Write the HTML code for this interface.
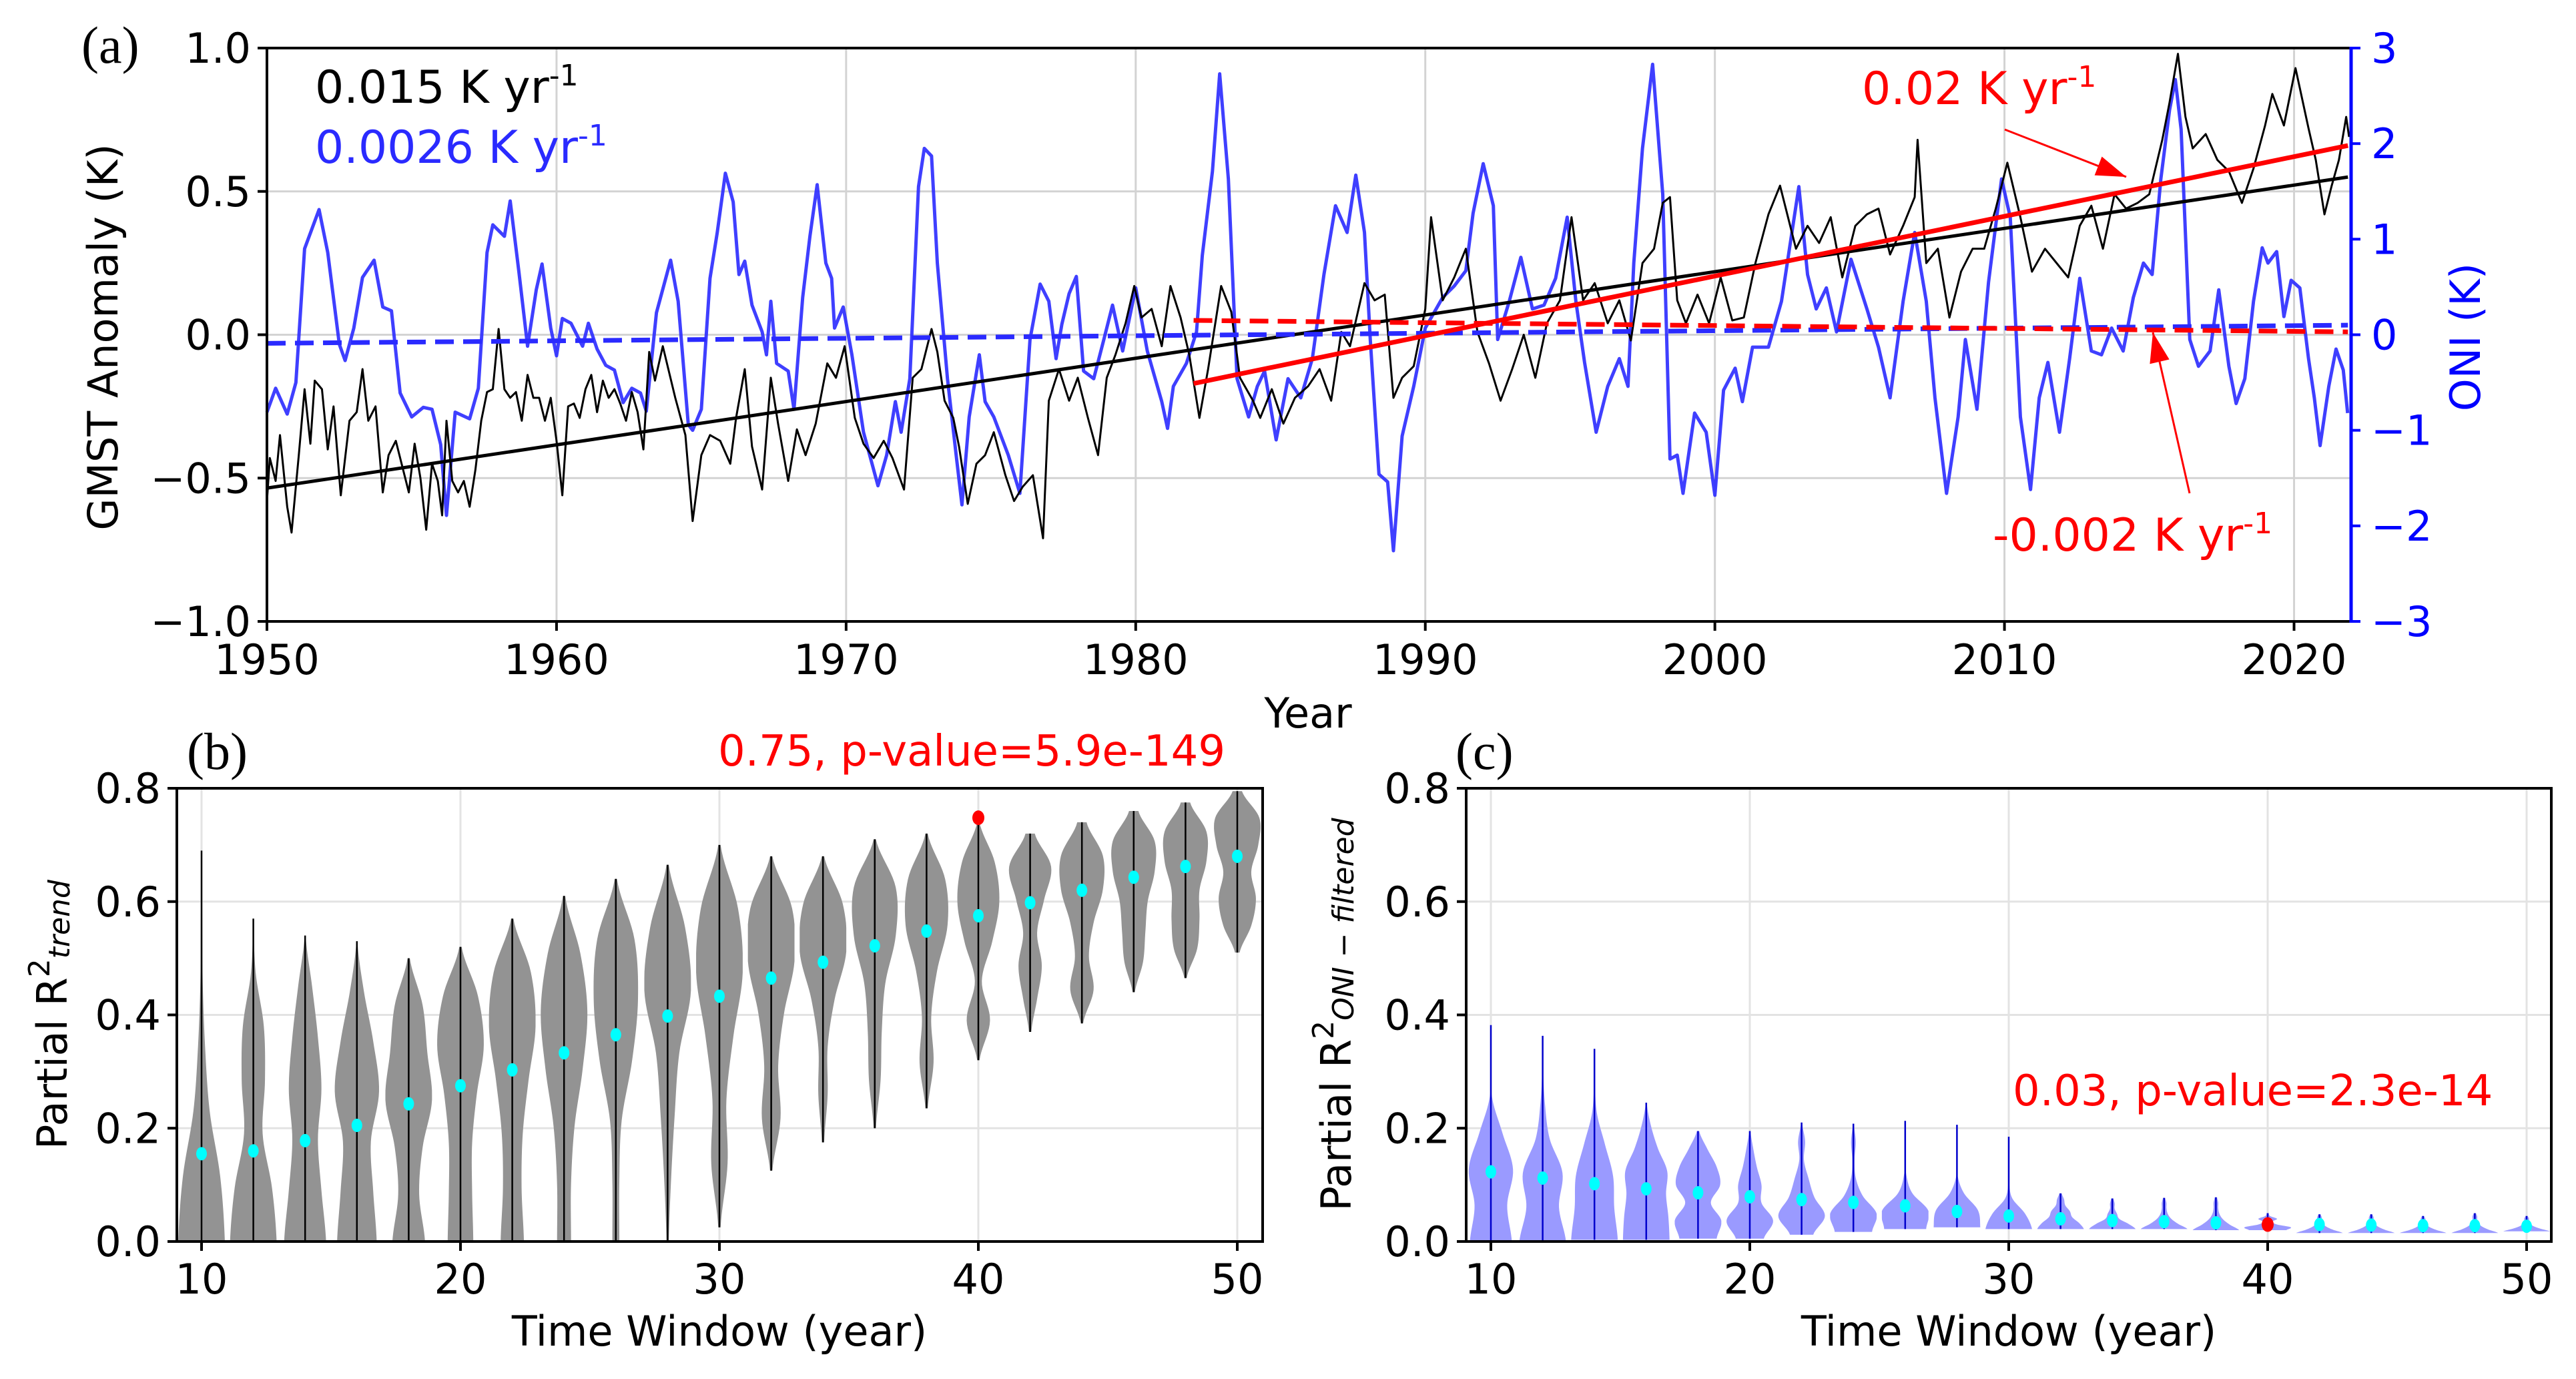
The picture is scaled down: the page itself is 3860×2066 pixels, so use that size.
<!DOCTYPE html>
<html><head><meta charset="utf-8"><style>
html,body{margin:0;padding:0;background:#fff}
svg{display:block;font-family:"DejaVu Sans","Liberation Sans",sans-serif}
</style></head><body>
<svg id="fig" xmlns="http://www.w3.org/2000/svg" width="3860" height="2066" viewBox="0 0 3860 2066">
<rect x="0" y="0" width="3860" height="2066" fill="#fff"/>
<g id="pa"></g>
<g id="pb"></g>
<g id="pc"></g>
</svg>
<script>
const oniYears=[1950.0,1950.3,1950.7,1951.0,1951.3,1951.8,1952.1,1952.5,1952.7,1953.0,1953.3,1953.7,1954.0,1954.3,1954.6,1955.0,1955.4,1955.7,1956.0,1956.2,1956.5,1957.0,1957.3,1957.6,1957.8,1958.2,1958.4,1958.7,1959.0,1959.3,1959.5,1959.8,1960.0,1960.2,1960.5,1960.9,1961.1,1961.4,1961.7,1962.0,1962.3,1962.6,1962.9,1963.1,1963.45,1963.94,1964.2,1964.55,1964.7,1965.0,1965.3,1965.55,1965.83,1966.1,1966.3,1966.5,1966.75,1967.1,1967.25,1967.4,1967.6,1968.0,1968.2,1968.5,1968.75,1969.0,1969.3,1969.5,1969.6,1969.9,1970.2,1970.6,1971.1,1971.4,1971.7,1971.9,1972.2,1972.5,1972.7,1972.95,1973.15,1973.5,1973.8,1974.0,1974.25,1974.6,1974.8,1975.1,1975.6,1976.0,1976.35,1976.7,1977.0,1977.25,1977.45,1977.7,1977.95,1978.2,1978.55,1978.9,1979.2,1979.55,1980.0,1980.4,1980.9,1981.1,1981.3,1981.75,1982.1,1982.3,1982.65,1982.9,1983.2,1983.5,1983.9,1984.2,1984.45,1984.85,1985.26,1985.7,1986.1,1986.5,1986.9,1987.3,1987.6,1987.9,1988.1,1988.4,1988.7,1988.9,1989.2,1989.6,1990.0,1990.6,1991.0,1991.4,1991.65,1992.0,1992.35,1992.5,1992.9,1993.3,1993.7,1994.1,1994.5,1994.9,1995.2,1995.5,1995.9,1996.3,1996.7,1997.0,1997.2,1997.5,1997.85,1998.2,1998.45,1998.7,1998.9,1999.3,1999.7,2000.0,2000.3,2000.7,2000.95,2001.3,2001.85,2002.3,2002.9,2003.2,2003.5,2003.85,2004.2,2004.7,2005.25,2005.65,2006.05,2006.5,2006.9,2007.3,2007.6,2008.0,2008.4,2008.65,2009.05,2009.45,2009.9,2010.2,2010.55,2010.9,2011.2,2011.5,2011.9,2012.25,2012.6,2013.0,2013.35,2013.7,2014.1,2014.45,2014.8,2015.1,2015.4,2015.7,2015.9,2016.1,2016.4,2016.7,2017.1,2017.4,2017.75,2018.0,2018.3,2018.6,2018.9,2019.1,2019.4,2019.65,2019.9,2020.2,2020.5,2020.7,2020.9,2021.2,2021.45,2021.7,2021.85];
const oniVals=[-0.81,-0.56,-0.83,-0.5,0.9,1.31,0.86,-0.1,-0.27,0.07,0.6,0.78,0.29,0.25,-0.61,-0.86,-0.76,-0.78,-1.15,-1.89,-0.81,-0.88,-0.56,0.86,1.15,1.03,1.4,0.66,-0.12,0.47,0.74,0.07,-0.22,0.17,0.12,-0.12,0.12,-0.15,-0.32,-0.37,-0.71,-0.56,-0.61,-0.8,0.23,0.78,0.35,-0.94,-1.0,-0.78,0.59,1.07,1.69,1.39,0.63,0.77,0.31,0.03,-0.21,0.35,-0.3,-0.38,-0.78,0.39,1.03,1.57,0.75,0.59,0.07,0.29,-0.21,-1.02,-1.58,-1.26,-0.7,-1.02,-0.46,1.55,1.95,1.87,0.75,-0.46,-1.26,-1.78,-0.86,-0.21,-0.7,-0.86,-1.26,-1.66,-0.05,0.53,0.35,-0.25,0.11,0.43,0.61,-0.38,-0.46,-0.05,0.31,-0.17,0.49,-0.17,-0.7,-0.98,-0.54,-0.3,0.03,0.83,1.71,2.73,1.63,-0.46,-0.86,-0.54,-0.38,-1.1,-0.46,-0.66,-0.25,0.63,1.35,1.07,1.67,1.07,-0.05,-1.46,-1.54,-2.26,-1.06,-0.54,0.07,0.39,0.51,0.67,1.27,1.79,1.35,-0.05,0.35,0.81,0.27,0.31,0.59,1.23,0.35,-0.29,-1.02,-0.54,-0.25,-0.54,0.75,1.95,2.83,1.47,-1.3,-1.26,-1.66,-0.82,-1.02,-1.68,-0.58,-0.35,-0.7,-0.13,-0.13,0.35,1.55,0.63,0.27,0.49,0.03,0.79,0.27,-0.13,-0.66,0.35,1.07,0.35,-0.66,-1.66,-0.86,-0.05,-0.78,0.55,1.63,1.23,-0.86,-1.62,-0.66,-0.29,-1.02,-0.25,0.59,-0.17,-0.21,0.07,-0.17,0.39,0.75,0.63,1.63,2.35,2.67,2.15,-0.05,-0.33,-0.17,0.47,-0.33,-0.72,-0.46,0.35,0.91,0.75,0.87,0.19,0.57,0.49,-0.25,-0.66,-1.16,-0.54,-0.15,-0.37,-0.82];
const gmstYears=[1950.0,1950.1,1950.3,1950.45,1950.7,1950.85,1951.1,1951.3,1951.5,1951.65,1951.9,1952.1,1952.3,1952.55,1952.85,1953.1,1953.3,1953.5,1953.75,1954.0,1954.2,1954.45,1954.7,1954.9,1955.1,1955.3,1955.5,1955.7,1955.9,1956.05,1956.2,1956.4,1956.6,1956.8,1957.0,1957.2,1957.4,1957.6,1957.8,1958.0,1958.2,1958.4,1958.6,1958.8,1959.0,1959.2,1959.4,1959.6,1959.8,1960.0,1960.2,1960.4,1960.6,1960.8,1961.0,1961.2,1961.4,1961.6,1961.8,1962.0,1962.2,1962.4,1962.6,1962.8,1963.0,1963.2,1963.4,1963.67,1964.1,1964.45,1964.7,1965.0,1965.3,1965.65,1966.0,1966.2,1966.5,1966.75,1967.1,1967.4,1967.65,1968.0,1968.3,1968.6,1968.95,1969.35,1969.65,1969.95,1970.3,1970.6,1970.95,1971.3,1971.6,1972.0,1972.3,1972.6,1972.95,1973.15,1973.4,1973.7,1973.9,1974.2,1974.5,1974.8,1975.1,1975.5,1975.8,1976.1,1976.45,1976.8,1977.0,1977.35,1977.7,1978.0,1978.35,1978.7,1979.0,1979.3,1979.65,1979.95,1980.2,1980.55,1980.9,1981.2,1981.55,1981.85,1982.2,1982.5,1982.95,1983.3,1983.6,1984.05,1984.3,1984.7,1985.1,1985.5,1985.95,1986.35,1986.75,1987.1,1987.4,1987.9,1988.25,1988.6,1988.9,1989.2,1989.6,1990.0,1990.2,1990.6,1991.0,1991.4,1991.8,1992.2,1992.6,1993.0,1993.4,1993.8,1994.2,1994.65,1995.05,1995.45,1995.85,1996.3,1996.7,1997.1,1997.5,1997.9,1998.2,1998.45,1998.7,1999.0,1999.4,1999.8,2000.2,2000.6,2001.0,2001.4,2001.85,2002.25,2002.8,2003.2,2003.6,2004.0,2004.4,2004.85,2005.25,2005.65,2006.05,2006.5,2006.9,2007.0,2007.3,2007.7,2008.1,2008.5,2008.9,2009.3,2009.7,2010.1,2010.55,2010.95,2011.4,2011.8,2012.2,2012.6,2013.0,2013.4,2013.8,2014.2,2014.6,2015.0,2015.45,2015.7,2015.99,2016.25,2016.5,2016.95,2017.35,2017.75,2018.2,2018.6,2019.0,2019.25,2019.65,2020.05,2020.5,2020.75,2021.05,2021.3,2021.55,2021.8,2021.9];
const gmstVals=[-0.58,-0.43,-0.51,-0.35,-0.6,-0.69,-0.42,-0.19,-0.38,-0.16,-0.19,-0.4,-0.25,-0.56,-0.3,-0.27,-0.12,-0.3,-0.25,-0.55,-0.42,-0.37,-0.47,-0.55,-0.38,-0.5,-0.68,-0.45,-0.51,-0.63,-0.3,-0.51,-0.55,-0.51,-0.6,-0.47,-0.3,-0.2,-0.19,0.02,-0.19,-0.22,-0.2,-0.3,-0.14,-0.22,-0.22,-0.3,-0.22,-0.37,-0.56,-0.25,-0.24,-0.29,-0.19,-0.14,-0.27,-0.16,-0.22,-0.19,-0.24,-0.3,-0.2,-0.27,-0.4,-0.06,-0.16,-0.04,-0.22,-0.35,-0.65,-0.42,-0.35,-0.37,-0.45,-0.29,-0.12,-0.39,-0.54,-0.15,-0.31,-0.51,-0.33,-0.42,-0.31,-0.1,-0.15,-0.04,-0.29,-0.38,-0.43,-0.37,-0.43,-0.54,-0.15,-0.12,0.02,-0.06,-0.23,-0.29,-0.39,-0.59,-0.45,-0.42,-0.34,-0.49,-0.58,-0.53,-0.49,-0.71,-0.23,-0.12,-0.23,-0.15,-0.29,-0.42,-0.15,-0.07,0.04,0.17,0.06,0.09,-0.04,0.17,0.06,-0.07,-0.29,-0.12,0.17,0.08,-0.15,-0.23,-0.29,-0.19,-0.31,-0.22,-0.18,-0.12,-0.23,0.01,-0.04,0.18,0.12,0.14,-0.22,-0.15,-0.11,0.09,0.41,0.12,0.2,0.3,0.01,-0.1,-0.23,-0.12,0.0,-0.15,0.04,0.12,0.41,0.12,0.18,0.04,0.12,-0.02,0.25,0.3,0.46,0.48,0.12,0.04,0.14,0.04,0.2,0.05,0.06,0.25,0.42,0.52,0.3,0.38,0.32,0.41,0.2,0.38,0.42,0.44,0.28,0.38,0.48,0.68,0.25,0.3,0.06,0.22,0.3,0.3,0.44,0.6,0.41,0.22,0.3,0.25,0.2,0.38,0.45,0.3,0.49,0.44,0.46,0.49,0.68,0.81,0.98,0.76,0.65,0.7,0.61,0.57,0.46,0.58,0.73,0.84,0.73,0.93,0.72,0.61,0.42,0.52,0.61,0.76,0.69];
const trendGmst=[-0.535,0.55];
const trendGmst2=[-0.17,0.66];
const trendOni=[-0.09,0.1];
const trendOni2=[0.15,0.03];
const windows=[10,12,14,16,18,20,22,24,26,28,30,32,34,36,38,40,42,44,46,48,50];
const bMed=[0.155,0.16,0.178,0.205,0.243,0.275,0.303,0.333,0.365,0.398,0.433,0.465,0.493,0.522,0.548,0.575,0.598,0.62,0.643,0.662,0.68];
const bMax=[0.69,0.57,0.54,0.53,0.5,0.52,0.57,0.61,0.64,0.665,0.7,0.68,0.68,0.71,0.72,0.74,0.72,0.74,0.76,0.775,0.795];
const bMin=[0,0,0,0,0,0,0,0,0,0,0.025,0.125,0.175,0.2,0.235,0.32,0.37,0.385,0.44,0.465,0.51];
const bDens=[[1,0.8,0.35,0.15,0.05,0.03,0.01],[1,0.8,0.4,0.5,0.45,0.1,0.01],[0.9,0.7,0.55,0.7,0.55,0.3,0.02],[0.85,0.7,0.6,0.95,0.7,0.3,0.02],[0.7,0.45,0.6,1,0.8,0.6,0.05],[0.55,0.5,0.5,0.7,1,0.75,0.05],[0.5,0.4,0.45,0.7,1,0.8,0.05],[0.3,0.3,0.45,0.8,1,0.7,0.05],[0.15,0.15,0.25,0.7,0.95,0.8,0.05],[0.05,0.15,0.3,0.5,1,0.75,0.05],[0.05,0.35,0.3,0.6,1,0.8,0.05],[0.05,0.4,0.3,0.55,1,0.9,0.05],[0.05,0.2,0.2,0.5,1,0.85,0.05],[0.05,0.25,0.3,0.45,0.9,0.9,0.05],[0.05,0.3,0.2,0.45,0.9,0.8,0.05],[0.05,0.5,0.15,0.6,0.9,0.7,0.05],[0.05,0.3,0.5,0.3,0.6,0.9,0.2],[0.05,0.5,0.3,0.5,0.9,0.9,0.2],[0.05,0.4,0.5,0.6,0.9,0.9,0.2],[0.05,0.5,0.6,0.6,0.9,0.9,0.2],[0.1,0.6,0.8,0.6,0.9,0.95,0.2]];
const cMed=[0.123,0.112,0.102,0.093,0.086,0.079,0.074,0.069,0.063,0.053,0.045,0.04,0.037,0.035,0.033,0.03,0.03,0.029,0.028,0.028,0.027];
const cMax=[0.382,0.363,0.34,0.245,0.195,0.195,0.21,0.208,0.213,0.206,0.185,0.085,0.076,0.077,0.078,0.05,0.048,0.048,0.045,0.05,0.045];
const cMin=[0,0,0.003,0.003,0.005,0.005,0.012,0.017,0.022,0.025,0.022,0.022,0.022,0.022,0.02,0.02,0.015,0.015,0.015,0.015,0.018];
const cDens=[[0.9,0.7,0.95,0.5,0.05,0.02,0.01],[1,0.7,0.85,0.3,0.1,0.02,0.01],[1,0.85,0.8,0.45,0.1,0.02,0.01],[1,0.95,0.85,0.9,0.5,0.2,0.02],[0.8,1,0.55,0.95,0.8,0.4,0.05],[0.6,1,0.5,0.5,0.3,0.15,0.03],[0.5,1,0.55,0.3,0.1,0.15,0.02],[0.8,1,0.4,0.1,0.05,0.1,0.02],[0.9,1,0.3,0.05,0.02,0.02,0.01],[1,0.9,0.3,0.03,0.01,0.01,0.01],[1,0.7,0.15,0.02,0.01,0.01,0.01],[1,0.8,0.5,0.4,0.2,0.15,0.05],[1,0.7,0.3,0.2,0.1,0.1,0.05],[1,0.6,0.3,0.15,0.1,0.1,0.05],[1,0.6,0.3,0.15,0.1,0.1,0.05],[0.8,1,0.4,0.2,0.4,0.1,0.05],[1,0.6,0.3,0.15,0.1,0.1,0.05],[1,0.6,0.3,0.15,0.1,0.1,0.05],[1,0.6,0.3,0.15,0.1,0.1,0.05],[1,0.6,0.3,0.15,0.1,0.1,0.05],[1,0.6,0.3,0.15,0.1,0.1,0.05]];
const yearTicks=[1950,1960,1970,1980,1990,2000,2010,2020];
const gmstTicks=[-1.0,-0.5,0.0,0.5,1.0];
const oniTicks=[-3,-2,-1,0,1,2,3];
const winTicks=[10,20,30,40,50];
const r2Ticks=[0.0,0.2,0.4,0.6,0.8];

const NS="http://www.w3.org/2000/svg";
function mk(parent,tag,attrs,text){const e=document.createElementNS(NS,tag);for(const k in attrs)e.setAttribute(k,attrs[k]);if(text!==undefined)e.textContent=text;parent.appendChild(e);return e;}
function fmtG(v){const s=v.toFixed(1);return v<0?"\u2212"+s.slice(1):s;}
function fmtI(v){return v<0?"\u2212"+(-v):""+v;}

const pa=document.getElementById('pa');
const A={l:400,r:3523,t:72,b:931,x0:1950,x1:2021.97};
const ax=y=>A.l+(y-A.x0)/(A.x1-A.x0)*(A.r-A.l);
const ayG=v=>A.t+(1-v)/2*(A.b-A.t);
const ayO=v=>A.t+(3-v)/6*(A.b-A.t);
yearTicks.forEach(t=>{let g=mk(pa,'line',{x1:ax(t),x2:ax(t),y1:A.t,y2:A.b,stroke:'#d3d3d3','stroke-width':3});

});
gmstTicks.forEach(t=>{let g=mk(pa,'line',{x1:A.l,x2:A.r,y1:ayG(t),y2:ayG(t),stroke:'#d3d3d3','stroke-width':3});

});
let p=mk(pa,'polyline',{points:oniYears.map((y,i)=>ax(y)+','+ayO(oniVals[i])).join(' '),fill:'none',stroke:'#2a2aff','stroke-width':5,'stroke-linejoin':'round','stroke-opacity':0.9});


p=mk(pa,'polyline',{points:gmstYears.map((y,i)=>ax(y)+','+ayG(gmstVals[i])).join(' '),fill:'none',stroke:'#000','stroke-width':3,'stroke-linejoin':'round'});


p=mk(pa,'line',{x1:ax(1950),y1:ayG(trendGmst[0]),x2:ax(2021.86),y2:ayG(trendGmst[1]),stroke:'#000','stroke-width':5});


p=mk(pa,'line',{x1:ax(1950),y1:ayO(trendOni[0]),x2:ax(2021.86),y2:ayO(trendOni[1]),stroke:'#2a2aff','stroke-width':7,'stroke-dasharray':'28 14'});


p=mk(pa,'line',{x1:ax(1982),y1:ayG(trendGmst2[0]),x2:ax(2021.86),y2:ayG(trendGmst2[1]),stroke:'#ff0000','stroke-width':7});


p=mk(pa,'line',{x1:ax(1982),y1:ayO(trendOni2[0]),x2:ax(2021.86),y2:ayO(trendOni2[1]),stroke:'#ff0000','stroke-width':7,'stroke-dasharray':'28 14'});


function arrow(par,x1,y1,x2,y2,name){const g=mk(par,'g',{});


mk(g,'line',{x1:x1,y1:y1,x2:x2,y2:y2,stroke:'#f00','stroke-width':3});
const a=Math.atan2(y2-y1,x2-x1),L=45,W=15;const bx=x2-L*Math.cos(a),by=y2-L*Math.sin(a);
mk(g,'polygon',{points:`${x2},${y2} ${bx+W*Math.sin(a)},${by-W*Math.cos(a)} ${bx-W*Math.sin(a)},${by+W*Math.cos(a)}`,fill:'#f00'});}
arrow(pa,3004,194,3186,265,'arrow-recent-trend');
arrow(pa,3281,739,3226,498,'arrow-oni-recent-trend');
p=mk(pa,'rect',{x:A.l,y:A.t,width:A.r-A.l,height:A.b-A.t,fill:'none',stroke:'#000','stroke-width':4});


p=mk(pa,'line',{x1:A.r,x2:A.r,y1:A.t-2,y2:A.b+2,stroke:'#0000ff','stroke-width':5});


yearTicks.forEach(t=>{mk(pa,'line',{x1:ax(t),x2:ax(t),y1:A.b,y2:A.b+14,stroke:'#000','stroke-width':4});
let tx=mk(pa,'text',{x:ax(t),y:1010,'font-size':62,'text-anchor':'middle'},t);

});
gmstTicks.forEach(t=>{mk(pa,'line',{x1:A.l-14,x2:A.l,y1:ayG(t),y2:ayG(t),stroke:'#000','stroke-width':4});
let tx=mk(pa,'text',{x:A.l-24,y:ayG(t)+22,'font-size':62,'text-anchor':'end'},fmtG(t));

});
oniTicks.forEach(t=>{mk(pa,'line',{x1:A.r,x2:A.r+14,y1:ayO(t),y2:ayO(t),stroke:'#0000ff','stroke-width':4});
let tx=mk(pa,'text',{x:A.r+30,y:ayO(t)+22,'font-size':62,fill:'#0000ff'},fmtI(t));

});
</script>
<script>
(function(){
const pa=document.getElementById('pa');
pa.insertAdjacentHTML('beforeend',`
<text x="122" y="94" font-size="78" font-family="Liberation Serif, serif">(a)</text>
<text transform="translate(176,505) rotate(-90)" font-size="62" text-anchor="middle">GMST Anomaly (K)</text>
<text transform="translate(3716,505) rotate(-90)" font-size="62" text-anchor="middle" fill="#0000ff">ONI (K)</text>
<text x="1960" y="1090" font-size="62" text-anchor="middle">Year</text>
<text x="472" y="154" font-size="68">0.015 K yr<tspan font-size="44" dy="-26">-1</tspan></text>
<text x="472" y="244" font-size="68" fill="#2a2aff">0.0026 K yr<tspan font-size="44" dy="-26">-1</tspan></text>
<text x="2790" y="156" font-size="68" fill="#ff0000">0.02 K yr<tspan font-size="44" dy="-26">-1</tspan></text>
<text x="2986" y="825" font-size="68" fill="#ff0000">-0.002 K yr<tspan font-size="44" dy="-26">-1</tspan></text>
`);
})();
</script>
<script>
function violinPanel(gid,P,med,vmax,vmin,dens,fill,lineCol,redIdx,ymaxV){
const g=document.getElementById(gid);
const X=v=>P.x10+(v-10)*P.u;
const Y=v=>P.b-v/ymaxV*(P.b-P.t);
winTicks.forEach(t=>{let l=mk(g,'line',{x1:X(t),x2:X(t),y1:P.t,y2:P.b,stroke:'#e3e3e3','stroke-width':3});

});
r2Ticks.forEach(t=>{let l=mk(g,'line',{x1:P.l,x2:P.r,y1:Y(t),y2:Y(t),stroke:'#e3e3e3','stroke-width':3});

});
windows.forEach((w,i)=>{
 const d=dens[i],n=d.length-1,lo=vmin[i],hi=vmax[i];
 const samp=[];const N=60;
 for(let k=0;k<=N;k++){const f=k/N*n;const j=Math.min(Math.floor(f),n-1);const tt=f-j;
   const p0=d[Math.max(j-1,0)],p1=d[j],p2=d[j+1],p3=d[Math.min(j+2,n)];
   let v=0.5*((2*p1)+(-p0+p2)*tt+(2*p0-5*p1+4*p2-p3)*tt*tt+(-p0+3*p1-3*p2+p3)*tt*tt*tt);
   v=Math.max(0.01,Math.min(1,v));samp.push([lo+(hi-lo)*k/N,v]);}
 const hw=0.9*P.u;
 let pts=samp.map(s=>(X(w)+s[1]*hw)+','+Y(s[0]));
 pts=pts.concat(samp.slice().reverse().map(s=>(X(w)-s[1]*hw)+','+Y(s[0])));
 const vp=mk(g,'polygon',{points:pts.join(' '),fill:fill,stroke:'none'});
 
 
 const ln=mk(g,'line',{x1:X(w),x2:X(w),y1:Y(lo),y2:Y(hi),stroke:lineCol,'stroke-width':2.5});
 
 
 const dt=mk(g,'ellipse',{cx:X(w),cy:Y(med[i]),rx:8,ry:10,fill:'#00ffff'});
 
 
});
const rd=mk(g,'ellipse',{cx:X(40),cy:Y(redIdx),rx:9,ry:11,fill:'#ff0000'});


const fr=mk(g,'rect',{x:P.l,y:P.t,width:P.r-P.l,height:P.b-P.t,fill:'none',stroke:'#000','stroke-width':4});


winTicks.forEach(t=>{mk(g,'line',{x1:X(t),x2:X(t),y1:P.b,y2:P.b+14,stroke:'#000','stroke-width':4});
const tx=mk(g,'text',{x:X(t),y:1938,'font-size':62,'text-anchor':'middle'},t);

});
r2Ticks.forEach(t=>{mk(g,'line',{x1:P.l-14,x2:P.l,y1:Y(t),y2:Y(t),stroke:'#000','stroke-width':4});
const tx=mk(g,'text',{x:P.l-24,y:Y(t)+22,'font-size':62,'text-anchor':'end'},t.toFixed(1));

});
}
violinPanel('pb',{l:265,r:1892,t:1181,b:1860,x10:302,u:38.8},bMed,bMax,bMin,bDens,'#939393','#000',0.748,0.8);
violinPanel('pc',{l:2197,r:3823,t:1181,b:1860,x10:2234,u:38.8},cMed,cMax,cMin,cDens,'#9a9aff','#0000cc',0.03,0.8);
document.getElementById('pb').insertAdjacentHTML('beforeend',`
<text x="280" y="1152" font-size="78" font-family="Liberation Serif, serif">(b)</text>
<text x="1076" y="1147" font-size="64" fill="#ff0000">0.75, p-value=5.9e-149</text>
<text x="1078" y="2016" font-size="62" text-anchor="middle">Time Window (year)</text>
<text transform="translate(100,1520) rotate(-90)" font-size="62" text-anchor="middle">Partial R<tspan font-size="44" dy="-26">2</tspan><tspan font-size="44" dy="30" font-style="italic">trend</tspan></text>`);
document.getElementById('pc').insertAdjacentHTML('beforeend',`
<text x="2181" y="1152" font-size="78" font-family="Liberation Serif, serif">(c)</text>
<text x="3016" y="1656" font-size="64" fill="#ff0000">0.03, p-value=2.3e-14</text>
<text x="3010" y="2016" font-size="62" text-anchor="middle">Time Window (year)</text>
<text transform="translate(2024,1520) rotate(-90)" font-size="62" text-anchor="middle">Partial R<tspan font-size="44" dy="-26">2</tspan><tspan font-size="44" dy="30" font-style="italic">ONI − filtered</tspan></text>`);
</script>
</body></html>
